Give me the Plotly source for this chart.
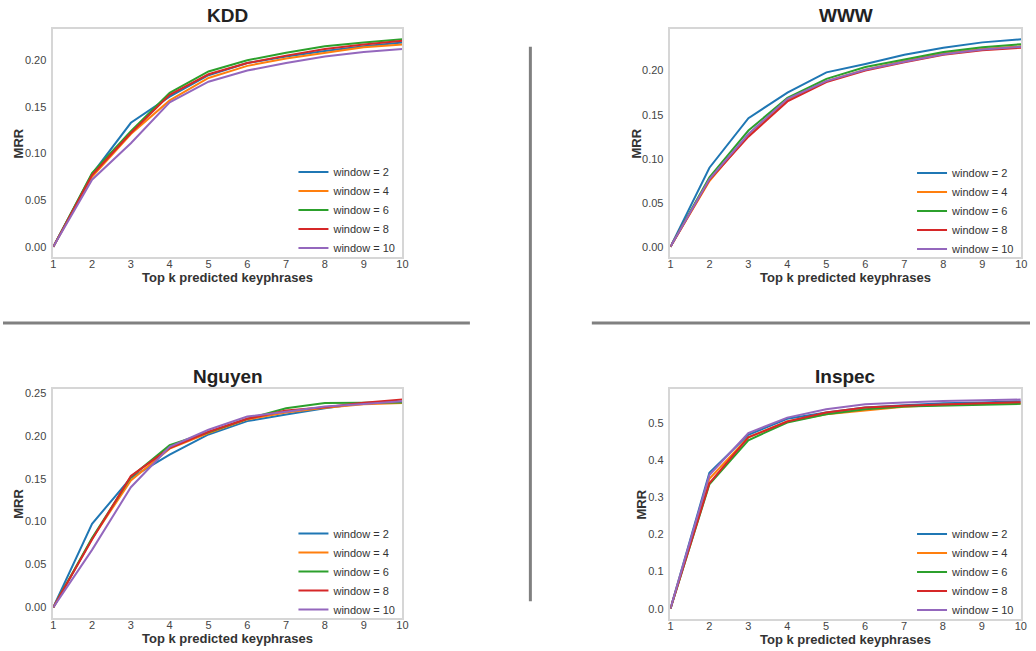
import plotly.graph_objects as go

k_values = [1, 2, 3, 4, 5, 6, 7, 8, 9, 10]
series_names = ["window = 2", "window = 4", "window = 6", "window = 8", "window = 10"]
colors = ["#1f77b4", "#ff7f0e", "#2ca02c", "#d62728", "#9467bd"]

kdd_w2 = [0, 0.078, 0.133, 0.161, 0.184, 0.197, 0.204, 0.210, 0.215, 0.219]
kdd_w4 = [0, 0.075, 0.121, 0.157, 0.181, 0.194, 0.202, 0.208, 0.214, 0.217]
kdd_w6 = [0, 0.079, 0.124, 0.165, 0.188, 0.200, 0.208, 0.215, 0.219, 0.2225]
kdd_w8 = [0, 0.077, 0.122, 0.163, 0.185, 0.197, 0.205, 0.212, 0.217, 0.221]
kdd_w10 = [0, 0.072, 0.111, 0.155, 0.177, 0.189, 0.197, 0.204, 0.209, 0.212]

www_w2 = [0, 0.0898, 0.146, 0.175, 0.198, 0.2075, 0.218, 0.226, 0.232, 0.2355]
www_w4 = [0, 0.0747, 0.127, 0.167, 0.188, 0.201, 0.211, 0.2196, 0.2245, 0.2275]
www_w6 = [0, 0.079, 0.132, 0.169, 0.1906, 0.204, 0.2125, 0.221, 0.2264, 0.230]
www_w8 = [0, 0.076, 0.125, 0.165, 0.187, 0.200, 0.2095, 0.218, 0.223, 0.226]
www_w10 = [0, 0.077, 0.128, 0.168, 0.188, 0.201, 0.210, 0.2185, 0.2238, 0.227]

ngu_w2 = [0, 0.0974, 0.151, 0.178, 0.2015, 0.217, 0.2248, 0.232, 0.238, 0.2395]
ngu_w4 = [0, 0.080, 0.148, 0.185, 0.203, 0.219, 0.227, 0.2325, 0.2368, 0.238]
ngu_w6 = [0, 0.0807, 0.152, 0.189, 0.204, 0.2197, 0.232, 0.238, 0.2383, 0.2387]
ngu_w8 = [0, 0.079, 0.153, 0.1855, 0.2046, 0.2197, 0.2294, 0.2333, 0.2383, 0.2422]
ngu_w10 = [0, 0.067, 0.140, 0.187, 0.207, 0.2224, 0.228, 0.234, 0.237, 0.2403]

ins_w2 = [0, 0.366, 0.4686, 0.5117, 0.5287, 0.542, 0.548, 0.5538, 0.556, 0.559]
ins_w4 = [0, 0.350, 0.4615, 0.5045, 0.524, 0.535, 0.544, 0.5493, 0.551, 0.553]
ins_w6 = [0, 0.335, 0.454, 0.5018, 0.524, 0.5376, 0.545, 0.548, 0.550, 0.552]
ins_w8 = [0, 0.338, 0.4615, 0.5045, 0.5287, 0.542, 0.5466, 0.551, 0.554, 0.5565]
ins_w10 = [0, 0.360, 0.473, 0.515, 0.5376, 0.551, 0.5556, 0.560, 0.5618, 0.5636]

y_ticks_kdd = [0.00, 0.05, 0.10, 0.15, 0.20]
y_ticks_www = [0.00, 0.05, 0.10, 0.15, 0.20]
y_ticks_ngu = [0.00, 0.05, 0.10, 0.15, 0.20, 0.25]
y_ticks_ins = [0.0, 0.1, 0.2, 0.3, 0.4, 0.5]

panels = [
    ("KDD", [kdd_w2, kdd_w4, kdd_w6, kdd_w8, kdd_w10], y_ticks_kdd, ".2f"),
    ("WWW", [www_w2, www_w4, www_w6, www_w8, www_w10], y_ticks_www, ".2f"),
    ("Nguyen", [ngu_w2, ngu_w4, ngu_w6, ngu_w8, ngu_w10], y_ticks_ngu, ".2f"),
    ("Inspec", [ins_w2, ins_w4, ins_w6, ins_w8, ins_w10], y_ticks_ins, ".1f"),
]

W, H = 1036, 651
# pixel boxes: left, right, top, bottom
boxes = [
    (50.7, 403.0, 27.0, 256.0),
    (673.3, 1027.3, 27.0, 256.0),
    (50.7, 403.0, 388.3, 617.7),
    (673.3, 1026.7, 388.3, 619.0),
]
mrr_x = [15.5, 639.0, 15.5, 644.0]
legend_pos = [(293, 156), (917, 157), (293, 518.5), (917, 519)]

FONT = "Liberation Sans, Arial, sans-serif"
fig = go.Figure()
layout = dict(
    width=W, height=H, margin=dict(l=0, r=0, t=0, b=0),
    paper_bgcolor="white", plot_bgcolor="white",
    font=dict(family=FONT, color="#333333", size=11),
    showlegend=True,
)
annotations = []
for i, (name, data, yt, fmt) in enumerate(panels):
    ax = "" if i == 0 else str(i + 1)
    lg = "legend" if i == 0 else "legend" + str(i + 1)
    for j, vals in enumerate(data):
        fig.add_trace(go.Scatter(
            x=k_values, y=vals, mode="lines", name=series_names[j],
            line=dict(color=colors[j], width=2),
            xaxis="x" + ax, yaxis="y" + ax, legend=lg,
        ))
    l, r, t, b = boxes[i]
    ymax = max(max(v) for v in data)
    ymin = min(min(v) for v in data)
    pad = (ymax - ymin) * 0.05
    layout["xaxis" + ax] = dict(
        domain=[l / W, r / W], anchor="y" + ax, range=[1, 10],
        tickvals=k_values, ticktext=[str(k) for k in k_values],
        showgrid=False, zeroline=False, showline=True, mirror=True,
        linecolor="#d6d6d6", linewidth=1.5, ticks="", ticklabelstandoff=-4,
        tickfont=dict(size=11, color="#444444"),
    )
    layout["yaxis" + ax] = dict(
        domain=[1 - b / H, 1 - t / H], anchor="x" + ax, range=[ymin - pad, ymax + pad],
        tickvals=yt, tickformat=fmt,
        showgrid=False, zeroline=False, showline=True, mirror=True,
        linecolor="#d6d6d6", linewidth=1.5, ticks="", ticklabelstandoff=3,
        tickfont=dict(size=11, color="#444444"),
    )
    lx, ly = legend_pos[i]
    layout[lg] = dict(
        x=lx / W, y=1 - ly / H, xanchor="left", yanchor="top",
        bgcolor="rgba(0,0,0,0)", borderwidth=0, font=dict(size=11, color="#333333"),
        tracegroupgap=0, itemwidth=30,
    )
    cx = (l + r) / 2
    annotations.append(dict(
        text="<b>%s</b>" % name, x=cx / W, y=1 - (t - 13) / H, xref="paper", yref="paper",
        showarrow=False, font=dict(size=19, color="#222222", family=FONT),
        xanchor="center", yanchor="middle",
    ))
    annotations.append(dict(
        text="<b>MRR</b>", x=mrr_x[i] / W, y=1 - ((t + b) / 2) / H, xref="paper", yref="paper",
        showarrow=False, textangle=-90, font=dict(size=13, color="#333333", family=FONT),
        xanchor="center", yanchor="middle",
    ))
    annotations.append(dict(
        text="<b>Top k predicted keyphrases</b>", x=cx / W, y=1 - (b + 20.5) / H,
        xref="paper", yref="paper",
        showarrow=False, font=dict(size=13, color="#333333", family=FONT),
        xanchor="center", yanchor="middle",
    ))

layout["annotations"] = annotations
sep = dict(type="line", xref="paper", yref="paper", line=dict(color="#808080", width=3))
layout["shapes"] = [
    dict(sep, x0=532 / W, x1=532 / W, y0=1 - 45 / H, y1=1 - 601 / H),
    dict(sep, x0=0, x1=471 / W, y0=1 - 322 / H, y1=1 - 322 / H),
    dict(sep, x0=594 / W, x1=1.0, y0=1 - 322 / H, y1=1 - 322 / H),
]
fig.update_layout(**layout)
fig.write_html("out.html")
